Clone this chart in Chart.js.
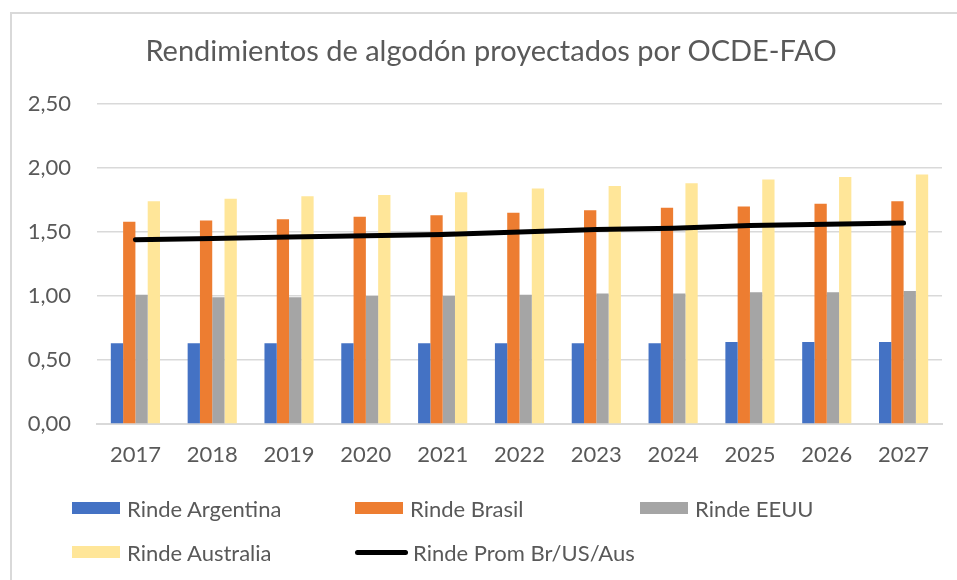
<!DOCTYPE html>
<html>
<head>
<meta charset="utf-8">
<script src="https://cdn.jsdelivr.net/npm/chart.js@4/dist/chart.umd.min.js"></script>
<style>
  html, body { margin: 0; padding: 0; background: #fff; }
  #wrap { position: relative; width: 957px; height: 580px; overflow: hidden; font-family: Lato, "Open Sans", sans-serif; }
  #frame { position: absolute; left: 10px; top: 12px; width: 1000px; height: 700px; border-left: 2px solid #d9d9d9; border-top: 2px solid #d9d9d9; box-sizing: border-box; }
  #title { position: absolute; left: 25px; right: 0; top: 33px; text-align: center; font-size: 29px; line-height: 34.8px; color: #595959; white-space: nowrap; }
  canvas { position: absolute; left: 0; top: 0; }
  .lg { position: absolute; display: flex; align-items: center; font-size: 22px; color: #595959; white-space: nowrap; }
  .sw { width: 48px; height: 12px; margin-right: 7px; }
  .ln { width: 53px; height: 5px; border-radius: 3px; margin-right: 5px; }
</style>
</head>
<body>
<div id="wrap">
  <div id="frame"></div>
  <canvas id="c" width="957" height="580"></canvas>
  <div id="title"></div>
  <div id="legend"></div>
</div>
<script>
const chartTitle = 'Rendimientos de algodón proyectados por OCDE-FAO';
const years = ['2017','2018','2019','2020','2021','2022','2023','2024','2025','2026','2027'];
const rindeArgentina = [0.63,0.63,0.63,0.63,0.63,0.63,0.63,0.63,0.64,0.64,0.64];
const rindeBrasil    = [1.58,1.59,1.60,1.62,1.63,1.65,1.67,1.69,1.70,1.72,1.74];
const rindeEEUU      = [1.01,0.99,0.99,1.00,1.00,1.01,1.02,1.02,1.03,1.03,1.04];
const rindeAustralia = [1.74,1.76,1.78,1.79,1.81,1.84,1.86,1.88,1.91,1.93,1.95];
const rindeProm      = [1.44,1.45,1.46,1.47,1.48,1.50,1.52,1.53,1.55,1.56,1.57];
const yTickValues = [0, 0.5, 1.0, 1.5, 2.0, 2.5];
const yTickLabels = ['0,00','0,50','1,00','1,50','2,00','2,50'];
const seriesNames = ['Rinde Argentina','Rinde Brasil','Rinde EEUU','Rinde Australia','Rinde Prom Br/US/Aus'];

document.getElementById('title').textContent = chartTitle;

const barCommon = { type: 'bar', categoryPercentage: 0.64, barPercentage: 1.0, order: 1, borderWidth: 0 };
const data = {
  labels: years,
  datasets: [
    Object.assign({ label: seriesNames[0], data: rindeArgentina, backgroundColor: '#4472C4' }, barCommon),
    Object.assign({ label: seriesNames[1], data: rindeBrasil, backgroundColor: '#ED7D31' }, barCommon),
    Object.assign({ label: seriesNames[2], data: rindeEEUU, backgroundColor: '#A5A5A5' }, barCommon),
    Object.assign({ label: seriesNames[3], data: rindeAustralia, backgroundColor: '#FFE699' }, barCommon),
    { type: 'line', label: seriesNames[4], data: rindeProm, borderColor: '#000000', backgroundColor: '#000000',
      borderWidth: 5, borderCapStyle: 'round', borderJoinStyle: 'round', pointRadius: 0, tension: 0, order: 0 }
  ]
};

const chart = new Chart(document.getElementById('c'), {
  type: 'bar',
  data: data,
  options: {
    responsive: false,
    animation: false,
    devicePixelRatio: 1,
    layout: { padding: { top: 104, left: 10, right: 15, bottom: 100 } },
    plugins: { legend: { display: false }, title: { display: false }, tooltip: { enabled: false } },
    scales: {
      x: {
        grid: { display: false, drawTicks: false },
        border: { display: true, color: '#d9d9d9', width: 2 },
        ticks: { color: '#595959', font: { family: 'Lato', size: 22 }, padding: 18, maxRotation: 0 },
        afterFit: (s) => { s.height = 56; }
      },
      y: {
        min: 0, max: 2.5,
        afterBuildTicks: (s) => { s.ticks = yTickValues.map(v => ({ value: v })); },
        grid: { color: '#d9d9d9', lineWidth: 1.5, drawTicks: false },
        border: { display: false },
        ticks: { color: '#595959', font: { family: 'Lato', size: 22 }, padding: 26,
          callback: (v) => { const i = yTickValues.indexOf(v); return i >= 0 ? yTickLabels[i] : ''; } },
        afterFit: (s) => { s.width = 87; }
      }
    }
  }
});

// HTML legend built from the chart's datasets
const legendPos = [[72,508],[355,508],[640,508],[72,552],[355,552]];
const lg = document.getElementById('legend');
chart.data.datasets.forEach((ds, i) => {
  const item = document.createElement('div');
  item.className = 'lg';
  item.style.left = legendPos[i][0] + 'px';
  item.style.top = (legendPos[i][1] - 14) + 'px';
  item.style.height = '28px';
  const sw = document.createElement('div');
  sw.className = ds.type === 'line' ? 'ln' : 'sw';
  sw.style.background = ds.type === 'line' ? ds.borderColor : ds.backgroundColor;
  const tx = document.createElement('span');
  tx.textContent = ds.label;
  item.appendChild(sw); item.appendChild(tx);
  lg.appendChild(item);
});
</script>
</body>
</html>
